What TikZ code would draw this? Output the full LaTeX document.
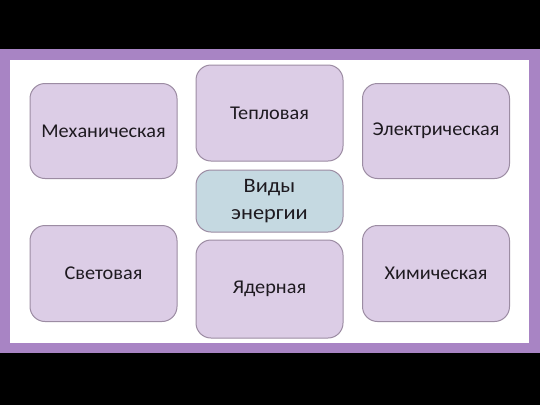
\documentclass[tikz,border=0pt]{standalone}
\usepackage{fontspec}
\setmainfont{Carlito}[FakeStretch=1.04]
\newfontfamily\centerfont{Carlito}[FakeStretch=1.09]
\definecolor{band}{HTML}{A884C4}
\definecolor{boxfill}{HTML}{DCCDE6}
\definecolor{boxline}{HTML}{9C8CA3}
\definecolor{centerfill}{HTML}{C5D9E1}
\definecolor{textcol}{HTML}{1E1A20}
\begin{document}
\begin{tikzpicture}[x=1pt,y=-1pt,
  energybox/.style={draw=boxline,line width=1pt,fill=boxfill,rounded corners=15pt,
    minimum width=147pt,inner sep=0pt,font=\fontsize{19.5}{23}\selectfont,text=textcol},
  centerbox/.style={energybox,fill=centerfill,align=center,font=\centerfont\fontsize{20.5}{27.5}\selectfont}]
\useasboundingbox (0,0) rectangle (540,405);
\fill[black] (0,0) rectangle (540,405);
\fill[band] (0,49) rectangle (540,353);
\fill[white] (10,60) rectangle (529,343);
\node[energybox,minimum height=95pt] (mech) at (103.5,131) {Механическая};
\node[energybox,minimum height=96pt] (heat) at (269.5,113) {Тепловая};
\node[energybox,minimum height=95pt] (elec) at (436,131) {Электрическая};
\node[centerbox,minimum height=62pt] (center) at (269.5,201) {Виды\\энергии};
\node[energybox,minimum height=96pt] (light) at (103.5,273.5) {Световая};
\node[energybox,minimum height=98pt] (nuc) at (269.5,289) {Ядерная};
\node[energybox,minimum height=96pt] (chem) at (436,273.5) {Химическая};
\end{tikzpicture}
\end{document}
